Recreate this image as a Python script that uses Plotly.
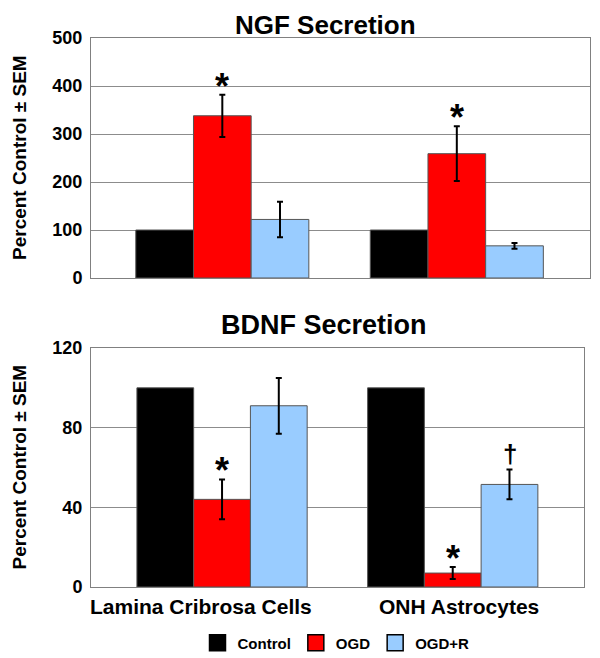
import plotly.graph_objects as go
from plotly.subplots import make_subplots

categories = ["Lamina Cribrosa Cells", "ONH Astrocytes"]
series = ["Control", "OGD", "OGD+R"]
colors = ["#000000", "#FF0000", "#99CCFF"]

ngf_values = {"Control": [100, 100], "OGD": [338, 259], "OGD+R": [122, 67]}
ngf_errors = {"Control": [None, None], "OGD": [44, 57], "OGD+R": [37, 6]}
bdnf_values = {"Control": [100, 100], "OGD": [44, 7], "OGD+R": [91, 51.5]}
bdnf_errors = {"Control": [None, None], "OGD": [10, 3], "OGD+R": [14, 7.5]}

ngf_ticks = [0, 100, 200, 300, 400, 500]
bdnf_ticks = [0, 40, 80, 120]

# page body has an 8px margin; size the figure to fit inside the window
OFF = 8
W, H = 600 - OFF, 658 - OFF


def px(x):
    return (x - OFF) / W


def py(y):
    return 1 - (y - OFF) / H


fig = make_subplots(rows=2, cols=1)

for row, (vals, errs) in enumerate([(ngf_values, ngf_errors), (bdnf_values, bdnf_errors)], start=1):
    for s, c in zip(series, colors):
        e = errs[s]
        has_err = any(v is not None for v in e)
        fig.add_trace(go.Bar(
            x=categories, y=vals[s], name=s,
            marker=dict(color=c, line=dict(color="#555555", width=1)),
            error_y=dict(type="data", array=[v if v is not None else 0 for v in e],
                         visible=has_err, color="#000000", thickness=2, width=3),
            showlegend=False,
        ), row=row, col=1)

# legend entries (square swatches)
for s, c in zip(series, colors):
    fig.add_trace(go.Scatter(x=[None], y=[None], mode="markers", name=s,
                             marker=dict(symbol="square", size=18, color=c,
                                         line=dict(color="#000000", width=1.5))),
                  row=2, col=1)

font_family = "Liberation Sans, Arial, sans-serif"

top_y = [py(278), py(38)]
bot_y = [py(587), py(348)]

tickfont = dict(family=font_family, size=18, color="#000", weight="bold")
axis_common = dict(showline=True, linecolor="#808080", linewidth=1, mirror=True,
                   ticks="", automargin=False)

fig.update_layout(
    width=W, height=H, margin=dict(l=0, r=0, t=0, b=0, autoexpand=False),
    paper_bgcolor="white", plot_bgcolor="white",
    barmode="group", bargap=0.262, bargroupgap=0,
    font=dict(family=font_family, color="#000"),
    showlegend=True,
    legend=dict(orientation="h", x=px(336), xanchor="center", y=py(643), yanchor="middle",
                font=dict(family=font_family, size=15, color="#000", weight="bold"),
                traceorder="normal", itemwidth=30, tracegroupgap=0),
    xaxis=dict(domain=[px(91), px(590)], range=[-0.56, 1.568], showticklabels=False,
               **axis_common),
    xaxis2=dict(domain=[px(91), px(584)], range=[-0.568, 1.569], showticklabels=False,
                **axis_common),
    yaxis=dict(domain=top_y, range=[0, 500], tickvals=ngf_ticks, showgrid=True,
               gridcolor="#8c8c8c", gridwidth=1, tickfont=tickfont, ticklabelstandoff=4,
               **axis_common),
    yaxis2=dict(domain=bot_y, range=[0, 120], tickvals=bdnf_ticks, showgrid=True,
                gridcolor="#8c8c8c", gridwidth=1, tickfont=tickfont, ticklabelstandoff=4,
                **axis_common),
)

# category labels under the lower panel
for cat, xc in zip(categories, [201, 459]):
    fig.add_annotation(text=cat, xref="paper", yref="paper", x=px(xc), y=py(606),
                       xanchor="center", yanchor="middle", showarrow=False,
                       font=dict(family=font_family, size=21, color="#000", weight="bold"))

# y-axis titles
for yc in [(top_y[0] + top_y[1]) / 2, (bot_y[0] + bot_y[1]) / 2]:
    fig.add_annotation(text="Percent Control ± SEM", xref="paper", yref="paper",
                       x=px(19), y=yc, xanchor="center", yanchor="middle",
                       textangle=-90, showarrow=False,
                       font=dict(family=font_family, size=19, color="#000", weight="bold"))

# titles
fig.add_annotation(text="NGF Secretion", xref="paper", yref="paper",
                   x=px(325), y=1, xanchor="center", yanchor="top", showarrow=False,
                   font=dict(family=font_family, size=26, color="#000", weight="bold"))
fig.add_annotation(text="BDNF Secretion", xref="paper", yref="paper",
                   x=px(324), y=py(325), xanchor="center", yanchor="middle", showarrow=False,
                   font=dict(family=font_family, size=27, color="#000", weight="bold"))

# significance markers
star_font = dict(family=font_family, size=36, color="#000", weight="bold")
marks = [
    ("x", "y", categories[0], ngf_values["OGD"][0] + ngf_errors["OGD"][0]),
    ("x", "y", categories[1], ngf_values["OGD"][1] + ngf_errors["OGD"][1]),
    ("x2", "y2", categories[0], bdnf_values["OGD"][0] + bdnf_errors["OGD"][0]),
    ("x2", "y2", categories[1], bdnf_values["OGD"][1] + bdnf_errors["OGD"][1]),
]
for xr, yr, xv, yv in marks:
    fig.add_annotation(text="*", x=xv, y=yv, xref=xr, yref=yr, showarrow=False,
                       xanchor="center", yanchor="bottom", yshift=-14, font=star_font)
fig.add_annotation(text="†", x=categories[1], y=bdnf_values["OGD+R"][1] + bdnf_errors["OGD+R"][1],
                   xref="x2", yref="y2", showarrow=False, xanchor="center", yanchor="bottom",
                   yshift=-2, xshift=57,
                   font=dict(family=font_family, size=26, color="#000", weight="bold"))

fig.write_html("out.html")
